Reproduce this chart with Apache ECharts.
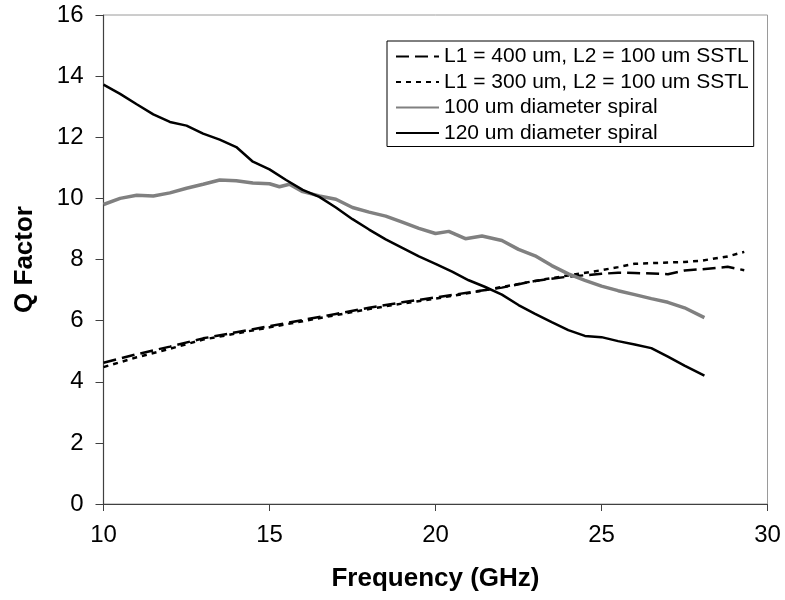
<!DOCTYPE html>
<html>
<head>
<meta charset="utf-8">
<script src="https://cdn.jsdelivr.net/npm/echarts@6/dist/echarts.min.js"></script>
<style>
html,body{margin:0;padding:0;background:#fff;}
#chart{width:785px;height:600px;}
</style>
</head>
<body>
<div id="chart"></div>
<script>
// ---- data ----
const seriesNames = [
  'L1 = 400 um, L2 = 100 um SSTL',
  'L1 = 300 um, L2 = 100 um SSTL',
  '100 um diameter spiral',
  '120 um diameter spiral'
];

const sstlFreq = [10, 11, 12, 13, 14, 15, 16, 17, 18, 19, 20, 21, 22, 23, 24, 25, 25.5, 26, 27, 27.5, 28, 28.8, 29.3];
const sstl400Q = [4.62, 4.90, 5.15, 5.42, 5.62, 5.82, 6.02, 6.22, 6.42, 6.60, 6.76, 6.92, 7.08, 7.30, 7.44, 7.53, 7.57, 7.56, 7.52, 7.64, 7.68, 7.76, 7.65];
const sstl300Q = [4.48, 4.80, 5.08, 5.38, 5.58, 5.78, 5.98, 6.18, 6.38, 6.56, 6.72, 6.90, 7.10, 7.30, 7.48, 7.65, 7.75, 7.86, 7.90, 7.92, 7.96, 8.10, 8.25];

const spiral100Freq = [10.0, 10.5, 11.0, 11.5, 12.0, 12.5, 13.0, 13.5, 14.0, 14.5, 15.0, 15.3, 15.6, 16.0, 16.5, 17.0, 17.5, 18.0, 18.5, 19.0, 19.5, 20.0, 20.4, 20.9, 21.4, 22.0, 22.5, 23.0, 23.5, 24.0, 24.5, 25.0, 25.5, 26.0, 26.5, 27.0, 27.5, 28.1];
const spiral100Q = [9.80, 10.00, 10.10, 10.08, 10.18, 10.33, 10.46, 10.60, 10.58, 10.50, 10.48, 10.38, 10.46, 10.22, 10.08, 9.97, 9.70, 9.55, 9.42, 9.22, 9.02, 8.85, 8.92, 8.68, 8.77, 8.62, 8.33, 8.12, 7.80, 7.53, 7.32, 7.13, 6.98, 6.85, 6.72, 6.60, 6.42, 6.10];

const spiral120Freq = [10.0, 10.5, 11.0, 11.5, 12.0, 12.5, 13.0, 13.5, 14.0, 14.5, 15.0, 15.5, 16.0, 16.5, 17.0, 17.5, 18.0, 18.5, 19.0, 19.5, 20.0, 20.5, 21.0, 21.5, 22.0, 22.5, 23.0, 23.5, 24.0, 24.5, 25.0, 25.5, 26.0, 26.5, 27.0, 27.5, 28.1];
const spiral120Q = [13.72, 13.42, 13.08, 12.75, 12.50, 12.38, 12.12, 11.92, 11.68, 11.20, 10.95, 10.60, 10.28, 10.05, 9.70, 9.32, 8.98, 8.66, 8.38, 8.10, 7.86, 7.60, 7.32, 7.10, 6.85, 6.51, 6.22, 5.95, 5.69, 5.50, 5.46, 5.33, 5.22, 5.10, 4.82, 4.53, 4.20];

const xTicks = [10, 15, 20, 25, 30];
const yTicks = [0, 2, 4, 6, 8, 10, 12, 14, 16];

function pairs(xs, ys) { return xs.map((x, i) => [x, ys[i]]); }

const FONT = '"Liberation Sans", Arial, sans-serif';
const chart = echarts.init(document.getElementById('chart'));
chart.setOption({
  animation: false,
  backgroundColor: '#fff',
  grid: {
    left: 103.5, right: 17.5, top: 15, bottom: 96,
    show: true, borderColor: '#9a9a9a', borderWidth: 1
  },
  legend: {
    orient: 'vertical',
    left: 387, top: 41,
    padding: [5, 5, 3, 8],
    borderColor: '#000', borderWidth: 1,
    itemWidth: 43, itemHeight: 14, itemGap: 4.5,
    itemTextGap: 1,
    itemStyle: { opacity: 0 },
    textStyle: { fontFamily: FONT, fontSize: 21, color: '#000' },
    data: seriesNames.slice()
  },
  xAxis: {
    type: 'value', min: xTicks[0], max: xTicks[xTicks.length - 1], interval: 5,
    name: 'Frequency (GHz)', nameLocation: 'middle', nameGap: 62,
    nameTextStyle: { fontFamily: FONT, fontSize: 26, fontWeight: 'bold', color: '#000' },
    axisLine: { lineStyle: { color: '#404040', width: 1.2 } },
    axisTick: { show: true, length: 7, lineStyle: { color: '#404040' } },
    axisLabel: { fontFamily: FONT, fontSize: 24, color: '#000', margin: 19 },
    splitLine: { show: false }
  },
  yAxis: {
    type: 'value', min: yTicks[0], max: yTicks[yTicks.length - 1], interval: 2,
    name: 'Q Factor', nameLocation: 'middle', nameGap: 66, nameRotate: 90,
    nameTextStyle: { fontFamily: FONT, fontSize: 26, fontWeight: 'bold', color: '#000' },
    axisLine: { show: true, lineStyle: { color: '#404040', width: 1.2 } },
    axisTick: { show: true, length: 8, lineStyle: { color: '#404040' } },
    axisLabel: { fontFamily: FONT, fontSize: 24, color: '#000', margin: 20 },
    splitLine: { show: false }
  },
  series: [
    { name: seriesNames[0], type: 'line', symbol: 'none', data: pairs(sstlFreq, sstl400Q),
      lineStyle: { color: '#000', width: 2.5, type: [13, 6] }, itemStyle: { color: '#000' } },
    { name: seriesNames[1], type: 'line', symbol: 'none', data: pairs(sstlFreq, sstl300Q),
      lineStyle: { color: '#000', width: 2.5, type: [5, 5] }, itemStyle: { color: '#000' } },
    { name: seriesNames[2], type: 'line', symbol: 'none', data: pairs(spiral100Freq, spiral100Q),
      lineStyle: { color: '#808080', width: 3.5 }, itemStyle: { color: '#808080' } },
    { name: seriesNames[3], type: 'line', symbol: 'none', data: pairs(spiral120Freq, spiral120Q),
      lineStyle: { color: '#000', width: 2.5 }, itemStyle: { color: '#000' } }
  ]
});
</script>
</body>
</html>
